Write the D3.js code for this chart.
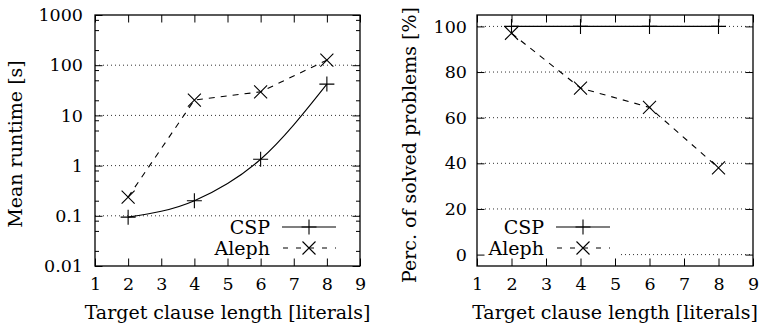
<!DOCTYPE html>
<html>
<head>
<meta charset="utf-8">
<script src="https://cdn.jsdelivr.net/npm/d3@7"></script>
</head>
<body style="margin:0;background:#fff">
<svg id="chart" width="762" height="334"></svg>
<script>
// data
var lengths = [2, 4, 6, 8];
var runtimeCSP = [0.094, 0.2, 1.34, 42];
var runtimeAleph = [0.236, 20.2, 29.5, 126];
var solvedCSP = [100, 100, 100, 100];
var solvedAleph = [97, 73, 64.5, 38];

var xTicks = [1, 2, 3, 4, 5, 6, 7, 8, 9];
var runtimeTicks = [0.01, 0.1, 1, 10, 100, 1000];
var runtimeLabels = ["0.01", "0.1", "1", "10", "100", "1000"];
var solvedTicks = [0, 20, 40, 60, 80, 100];
var seriesNames = ["CSP", "Aleph"];

var svg = d3.select("#chart");
var fontList = "'DejaVu Serif'";

// minor ticks of the log axis (2, 5, 8 per decade)
var runtimeMinor = [];
[0.01, 0.1, 1, 10, 100].forEach(function(d) {
  [2, 5, 8].forEach(function(m) { runtimeMinor.push(d * m); });
});

function plus(g, x, y) {
  g.append("path")
    .attr("d", "M" + (x - 7.5) + "," + y + "H" + (x + 7.5) + "M" + x + "," + (y - 7.5) + "V" + (y + 7.5))
    .attr("stroke", "#000").attr("stroke-width", 1.1).attr("fill", "none");
}
function cross(g, x, y) {
  var s = 6.5;
  g.append("path")
    .attr("d", "M" + (x - s) + "," + (y - s) + "L" + (x + s) + "," + (y + s) + "M" + (x - s) + "," + (y + s) + "L" + (x + s) + "," + (y - s))
    .attr("stroke", "#000").attr("stroke-width", 1.1).attr("fill", "none");
}
function txt(sel, size) {
  return sel
    .style("font-family", fontList)
    .style("font-size", size + "px")
    .attr("fill", "#000");
}

function drawPanel(opt) {
  var x = opt.x, y = opt.y;
  var g = svg.append("g");
  var x0 = x.range()[0], x1 = x.range()[1];
  var yb = y.range()[0], yt = y.range()[1];

  // dotted grid
  g.append("g").selectAll("line")
    .data(opt.grid)
    .enter().append("line")
    .attr("x1", x0).attr("x2", x1)
    .attr("y1", function(d) { return y(d); })
    .attr("y2", function(d) { return y(d); })
    .attr("stroke", "#333").attr("stroke-width", 1)
    .attr("stroke-dasharray", "1,3");

  // opaque key box
  if (opt.keyBox) {
    g.append("rect")
      .attr("x", opt.keyBox[0]).attr("y", opt.keyBox[1])
      .attr("width", opt.keyBox[2]).attr("height", opt.keyBox[3])
      .attr("fill", "#fff");
  }

  // lines
  var lineCSP = d3.line()
    .x(function(d, i) { return x(lengths[i]); })
    .y(function(d) { return y(d); })
    .curve(opt.curveCSP || d3.curveLinear);
  var lineAleph = d3.line()
    .x(function(d, i) { return x(lengths[i]); })
    .y(function(d) { return y(d); });

  g.append("path").datum(opt.csp)
    .attr("d", lineCSP)
    .attr("fill", "none").attr("stroke", "#000").attr("stroke-width", 1.1);
  g.append("path").datum(opt.aleph)
    .attr("d", lineAleph)
    .attr("fill", "none").attr("stroke", "#000").attr("stroke-width", 1.1)
    .attr("stroke-dasharray", "6,6");

  opt.csp.forEach(function(d, i) { plus(g, x(lengths[i]), y(d)); });
  opt.aleph.forEach(function(d, i) { cross(g, x(lengths[i]), y(d)); });

  // axes, ticks inward on all four sides
  var bottom = g.append("g").attr("transform", "translate(0," + yb + ")")
    .call(d3.axisBottom(x).tickValues(xTicks).tickFormat(d3.format("d"))
      .tickSizeInner(-7.5).tickSizeOuter(0).tickPadding(12));
  var topAx = g.append("g").attr("transform", "translate(0," + yt + ")")
    .call(d3.axisTop(x).tickValues(xTicks).tickFormat("")
      .tickSizeInner(-7.5).tickSizeOuter(0));
  var left = g.append("g").attr("transform", "translate(" + x0 + ",0)")
    .call(d3.axisLeft(y).tickValues(opt.ticks)
      .tickFormat(function(d, i) { return opt.labels[i]; })
      .tickSizeInner(-7.5).tickSizeOuter(0).tickPadding(opt.pad));
  var right = g.append("g").attr("transform", "translate(" + x1 + ",0)")
    .call(d3.axisRight(y).tickValues(opt.ticks).tickFormat("")
      .tickSizeInner(-7.5).tickSizeOuter(0));
  var axes = [bottom, topAx, left, right];
  if (opt.minor) {
    axes.push(g.append("g").attr("transform", "translate(" + x0 + ",0)")
      .call(d3.axisLeft(y).tickValues(opt.minor).tickFormat("").tickSizeInner(-4).tickSizeOuter(0)));
    axes.push(g.append("g").attr("transform", "translate(" + x1 + ",0)")
      .call(d3.axisRight(y).tickValues(opt.minor).tickFormat("").tickSizeInner(-4).tickSizeOuter(0)));
  }
  axes.forEach(function(a) {
    a.attr("font-family", null).attr("font-size", null);
    a.select(".domain").remove();
    a.selectAll("line").attr("stroke", "#000").attr("stroke-width", 1);
    txt(a.selectAll("text"), 17.5);
  });

  // frame
  g.append("rect")
    .attr("x", x0).attr("y", yt)
    .attr("width", x1 - x0).attr("height", yb - yt)
    .attr("fill", "none").attr("stroke", "#000").attr("stroke-width", 1.3);

  // axis titles
  txt(g.append("text"), 19)
    .attr("x", (x0 + x1) / 2).attr("y", 319)
    .attr("text-anchor", "middle")
    .text("Target clause length [literals]");
  txt(g.append("text"), 19)
    .attr("transform", "translate(" + opt.ylabelX + "," + opt.ylabelY + ") rotate(-90)")
    .attr("text-anchor", "middle")
    .text(opt.ylabel);

  // key
  var kx = opt.keyX, rows = [227, 248];
  seriesNames.forEach(function(name, i) {
    var ry = rows[i];
    txt(g.append("text"), 19)
      .attr("x", kx).attr("y", ry + 6.5)
      .attr("text-anchor", "end")
      .text(name);
    var sample = g.append("line")
      .attr("x1", kx + 12).attr("x2", kx + 66)
      .attr("y1", ry).attr("y2", ry)
      .attr("stroke", "#000").attr("stroke-width", 1.1);
    if (i === 0) {
      plus(g, kx + 39, ry);
    } else {
      sample.attr("stroke-dasharray", "5,8").attr("stroke-dashoffset", -1);
      cross(g, kx + 39, ry);
    }
  });
}

drawPanel({
  x: d3.scaleLinear().domain([1, 9]).range([95, 360]),
  y: d3.scaleLog().domain([0.01, 1000]).range([266, 15]),
  ticks: runtimeTicks, labels: runtimeLabels, minor: runtimeMinor,
  grid: [0.1, 1, 10, 100],
  csp: runtimeCSP, aleph: runtimeAleph,
  curveCSP: d3.curveMonotoneX,
  pad: 12,
  ylabel: "Mean runtime [s]", ylabelX: 22, ylabelY: 144,
  keyX: 270
});

drawPanel({
  x: d3.scaleLinear().domain([1, 9]).range([477, 753]),
  y: d3.scaleLinear().domain([-5, 105]).range([266, 15]),
  ticks: solvedTicks, labels: solvedTicks.map(String),
  grid: solvedTicks,
  csp: solvedCSP, aleph: solvedAleph,
  pad: 10,
  ylabel: "Perc. of solved problems [%]", ylabelX: 416, ylabelY: 145,
  keyX: 544,
  keyBox: [477, 216, 141, 46]
});
</script>
</body>
</html>
